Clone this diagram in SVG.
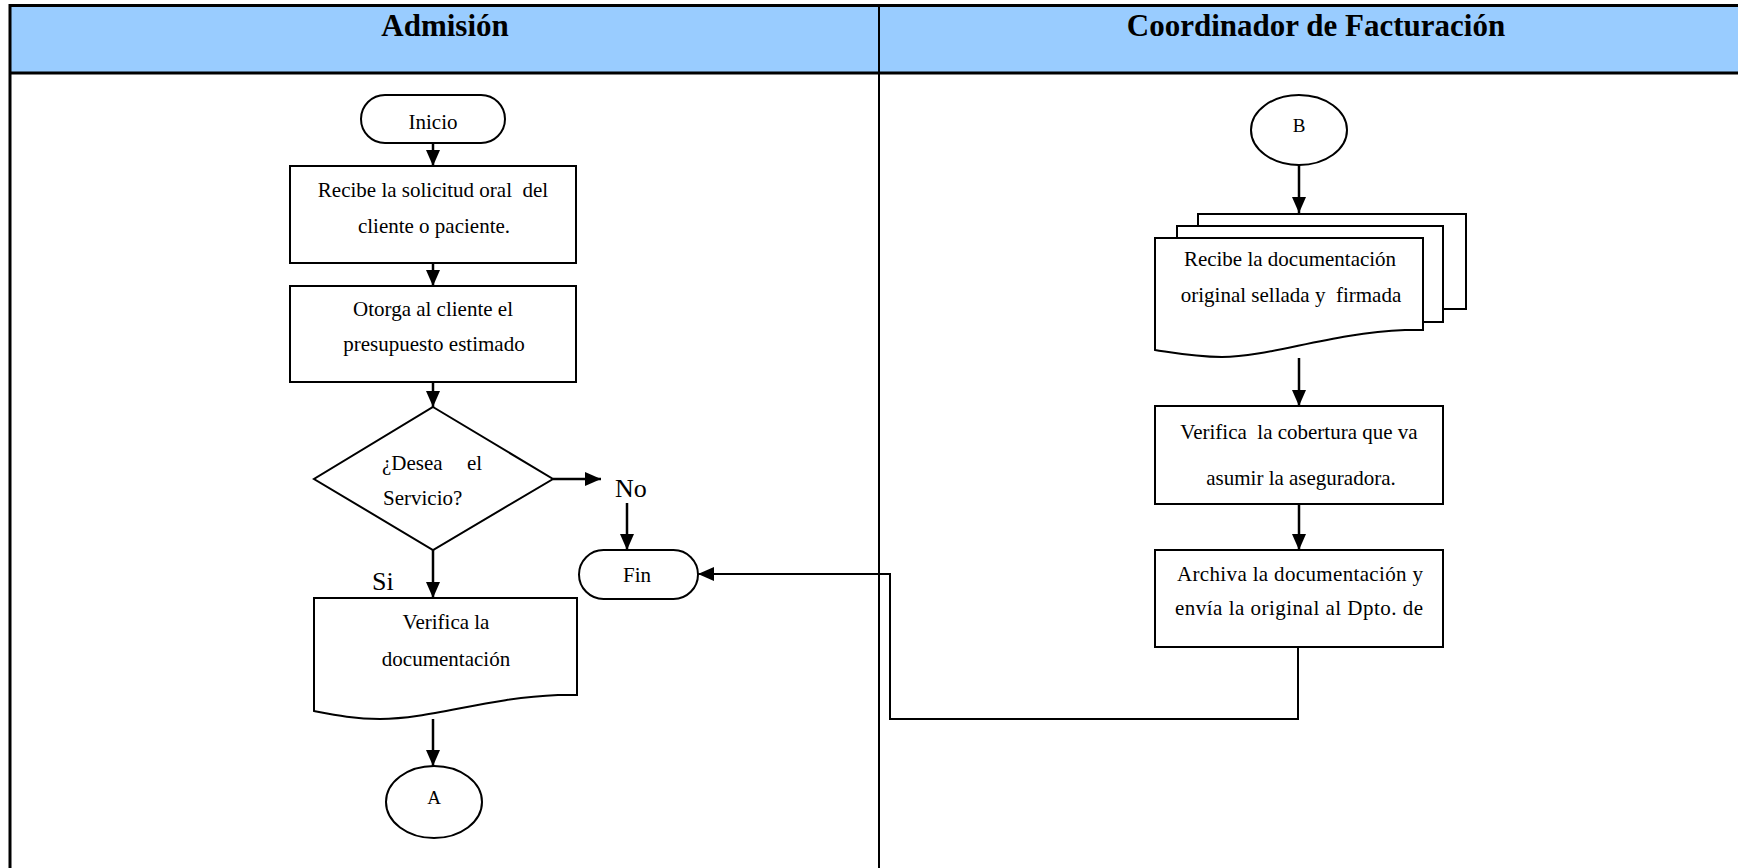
<svg xmlns="http://www.w3.org/2000/svg" width="1738" height="868" viewBox="0 0 1738 868">
<style>
.shape{fill:#fff;stroke:#000;stroke-width:2}
.t{font-family:"Liberation Serif","Times New Roman",serif;font-size:21px;fill:#000}
.c{text-anchor:middle}
.h{font-family:"Liberation Serif","Times New Roman",serif;font-size:31px;font-weight:bold;text-anchor:middle;fill:#000}
.lbl{font-family:"Liberation Serif","Times New Roman",serif;font-size:26px;fill:#000}
.con{fill:none;stroke:#000;stroke-width:2.5}
.con2{fill:none;stroke:#000;stroke-width:2}
.frame{fill:none;stroke:#000;stroke-width:3}
</style>
<defs>
<marker id="ah" markerUnits="userSpaceOnUse" markerWidth="18" markerHeight="16" refX="16" refY="7" orient="auto">
<path d="M0,0 L16,7 L0,14 z" fill="#000"/>
</marker>
</defs>
<rect x="0" y="0" width="1738" height="868" fill="#fff"/>
<g id="header">
<rect x="10" y="5.5" width="1728" height="67.5" fill="#99CCFF"/>
<line class="frame" x1="10" y1="5.5" x2="1738" y2="5.5"/>
<line class="frame" x1="10" y1="73" x2="1738" y2="73"/>
<line class="frame" x1="10" y1="4" x2="10" y2="868"/>
<line x1="879" y1="5" x2="879" y2="868" stroke="#000" stroke-width="2"/>
<text class="h" x="445" y="36">Admisión</text>
<text class="h" x="1316" y="36">Coordinador de Facturación</text>
</g>
<g id="inicio">
<rect class="shape" x="361" y="95" width="144" height="48" rx="24" ry="24"/>
<text class="t c" x="433" y="129">Inicio</text>
</g>
<g id="recibe-solicitud">
<rect class="shape" x="290" y="166" width="286" height="97"/>
<text class="t c" x="433" y="197" xml:space="preserve">Recibe la solicitud oral  del</text>
<text class="t c" x="434" y="233">cliente o paciente.</text>
</g>
<g id="otorga">
<rect class="shape" x="290" y="286" width="286" height="96"/>
<text class="t c" x="433" y="316">Otorga al cliente el</text>
<text class="t c" x="434" y="351">presupuesto estimado</text>
</g>
<g id="decision">
<polygon class="shape" points="433,407 553,479 433,550 314,479"/>
<text class="t" x="382" y="470">¿Desea</text>
<text class="t" x="467" y="470">el</text>
<text class="t" x="383" y="505">Servicio?</text>
</g>
<g id="label-no"><text class="lbl" x="615" y="497">No</text></g>
<g id="label-si"><text class="lbl" x="372" y="590">Si</text></g>
<g id="fin">
<rect class="shape" x="579" y="550" width="119" height="49" rx="24.5" ry="24.5"/>
<text class="t c" x="637" y="582">Fin</text>
</g>
<g id="verifica-doc">
<path class="shape" d="M314,598 H577 V695 L558,695 C485,698 432,719 380,719 C355,719 335,715 314,711 Z"/>
<text class="t c" x="446" y="629">Verifica la</text>
<text class="t c" x="446" y="666">documentación</text>
</g>
<g id="conector-a">
<ellipse class="shape" cx="434" cy="802" rx="48" ry="36"/>
<text class="t c" x="434" y="804" style="font-size:19px">A</text>
</g>
<g id="conector-b">
<ellipse class="shape" cx="1299" cy="130" rx="48" ry="35"/>
<text class="t c" x="1299" y="132" style="font-size:19px">B</text>
</g>
<g id="recibe-documentacion">
<rect class="shape" x="1198" y="214" width="268" height="95"/>
<rect class="shape" x="1177" y="226" width="266" height="96"/>
<path class="shape" d="M1155,238 H1423 V330 L1405,330 C1330,333 1270,357 1222,357 C1195,357 1175,353 1155,350 Z"/>
<text class="t c" x="1290" y="266">Recibe la documentación</text>
<text class="t c" x="1291" y="302" xml:space="preserve">original sellada y  firmada</text>
</g>
<g id="verifica-cobertura">
<rect class="shape" x="1155" y="406" width="288" height="98"/>
<text class="t c" x="1299" y="439" xml:space="preserve">Verifica  la cobertura que va</text>
<text class="t c" x="1301" y="485">asumir la aseguradora.</text>
</g>
<g id="archiva">
<rect class="shape" x="1155" y="550" width="288" height="97"/>
<text class="t" x="1177" y="581" textLength="246" lengthAdjust="spacing">Archiva la documentación y</text>
<text class="t" x="1175" y="615" textLength="248" lengthAdjust="spacing">envía la original al Dpto. de</text>
</g>
<g id="connectors">
<line class="con" x1="433" y1="143" x2="433" y2="166" marker-end="url(#ah)"/>
<line class="con" x1="433" y1="263" x2="433" y2="286" marker-end="url(#ah)"/>
<line class="con" x1="433" y1="382" x2="433" y2="407" marker-end="url(#ah)"/>
<line class="con" x1="553" y1="479" x2="601" y2="479" marker-end="url(#ah)"/>
<line class="con" x1="627" y1="503" x2="627" y2="550" marker-end="url(#ah)"/>
<line class="con" x1="433" y1="550" x2="433" y2="598" marker-end="url(#ah)"/>
<line class="con" x1="433" y1="719" x2="433" y2="766" marker-end="url(#ah)"/>
<line class="con" x1="1299" y1="165" x2="1299" y2="213" marker-end="url(#ah)"/>
<line class="con" x1="1299" y1="358" x2="1299" y2="406" marker-end="url(#ah)"/>
<line class="con" x1="1299" y1="504" x2="1299" y2="550" marker-end="url(#ah)"/>
<polyline class="con2" points="1298,647 1298,719 890,719 890,574 698,574" marker-end="url(#ah)"/>
</g>
</svg>
